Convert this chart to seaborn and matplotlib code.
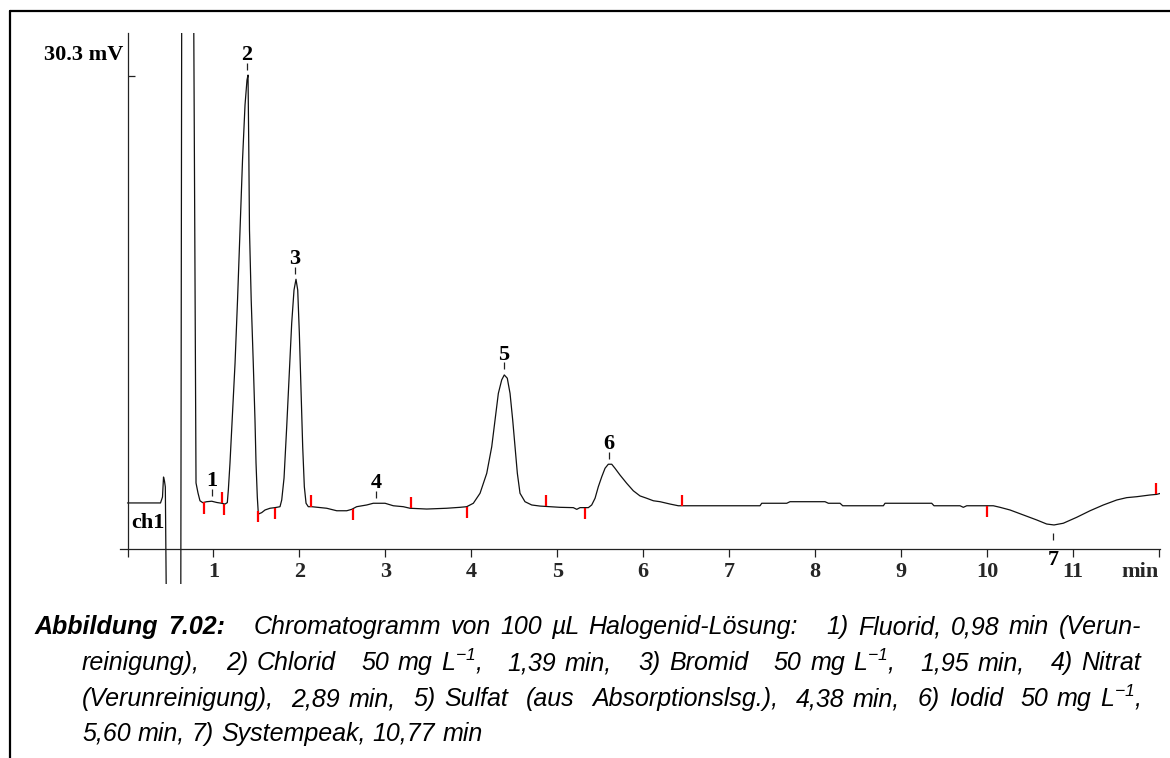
import re
import numpy as np
import pandas as pd
import matplotlib
matplotlib.use("Agg")
import matplotlib.pyplot as plt
import seaborn as sns
from matplotlib.lines import Line2D

# ---------------- data ----------------
time_min = [
    0.000, 0.384, 0.407, 0.419, 0.430, 0.440, 0.451, 0.620, 0.632, 0.765,
    0.797, 0.820, 0.843, 0.875, 0.921, 0.980, 1.038, 1.096, 1.134, 1.161,
    1.173, 1.192, 1.221, 1.251, 1.280, 1.309, 1.338, 1.367, 1.390, 1.402,
    1.411, 1.419, 1.439, 1.463, 1.483, 1.495, 1.510, 1.522, 1.561, 1.600,
    1.658, 1.716, 1.774, 1.794, 1.821, 1.852, 1.882, 1.910, 1.937, 1.960,
    1.980, 1.999, 2.018, 2.038, 2.057, 2.077, 2.103, 2.143, 2.317, 2.434,
    2.550, 2.608, 2.666, 2.783, 2.859, 2.996, 3.092, 3.208, 3.286, 3.481,
    3.713, 3.868, 3.946, 4.023, 4.101, 4.179, 4.237, 4.275, 4.314, 4.353,
    4.383, 4.418, 4.450, 4.481, 4.508, 4.535, 4.566, 4.624, 4.702, 4.799,
    4.915, 5.031, 5.186, 5.226, 5.264, 5.361, 5.400, 5.439, 5.477, 5.517,
    5.555, 5.593, 5.633, 5.671, 5.729, 5.807, 5.884, 5.962, 6.040, 6.117,
    6.195, 6.311, 6.408, 7.358, 7.378, 7.669, 7.707, 8.114, 8.153, 8.289,
    8.320, 8.793, 8.812, 9.355, 9.382, 9.685, 9.723, 9.763, 10.072, 10.150,
    10.266, 10.421, 10.577, 10.693, 10.778, 10.886, 11.042, 11.197, 11.352, 11.508,
    11.624, 11.740, 11.895, 11.973, 12.020,
]
signal_mv = [
    2.95, 2.95, 3.33, 4.61, 4.36, 3.97, -3.00, -3.00, 40.00, 40.00,
    4.23, 3.59, 3.09, 2.97, 3.03, 3.06, 2.98, 2.93, 2.88, 2.97,
    3.78, 5.49, 8.71, 11.90, 15.95, 20.43, 24.92, 28.44, 30.04, 30.36,
    25.56, 20.43, 15.95, 11.91, 8.26, 5.51, 3.33, 2.24, 2.33, 2.50,
    2.61, 2.65, 2.71, 3.14, 4.55, 7.83, 11.26, 14.46, 16.59, 17.28,
    16.59, 13.82, 10.19, 6.55, 3.99, 2.93, 2.71, 2.71, 2.61, 2.45,
    2.45, 2.54, 2.71, 2.82, 2.93, 2.93, 2.77, 2.71, 2.61, 2.56,
    2.61, 2.67, 2.71, 2.93, 3.57, 4.85, 6.55, 8.26, 9.97, 10.83,
    11.15, 10.94, 9.97, 8.26, 6.55, 4.85, 3.57, 3.03, 2.82, 2.75,
    2.71, 2.67, 2.65, 2.54, 2.65, 2.65, 2.82, 3.25, 3.99, 4.63,
    5.17, 5.43, 5.43, 5.17, 4.74, 4.21, 3.73, 3.40, 3.25, 3.09,
    3.03, 2.88, 2.77, 2.77, 2.93, 2.93, 3.03, 3.03, 2.93, 2.93,
    2.77, 2.77, 2.93, 2.93, 2.77, 2.77, 2.67, 2.77, 2.77, 2.67,
    2.50, 2.18, 1.86, 1.60, 1.54, 1.65, 2.03, 2.45, 2.82, 3.14,
    3.29, 3.35, 3.46, 3.50, 3.57,
]

peak_labels = ["1", "2", "3", "4", "5", "6", "7"]
peak_times = [0.98, 1.39, 1.95, 2.89, 4.38, 5.60, 10.77]
peak_negative = [False, False, False, False, False, False, True]

mark_times = [0.89, 1.10, 1.12, 1.52, 1.72, 2.14, 2.62, 3.30, 3.95,
              4.87, 5.32, 6.45, 10.00, 11.97]
mark_up = [False, True, False, False, False, True, False, True, False,
           True, False, True, False, True]

x_ticks = list(range(13))
x_ticklabels = ["", "1", "2", "3", "4", "5", "6", "7", "8", "9", "10", "11", "min"]
y_tick = 30.3
y_label = "30.3 mV"
channel_label = "ch1"

caption_title = "Abbildung 7.02:"
caption_lines = [
    "Chromatogramm von 100 µL Halogenid-Lösung:   1) Fluorid, 0,98 min (Verun-",
    "reinigung),   2) Chlorid   50 mg L$^{-1}$,   1,39 min,   3) Bromid   50 mg L$^{-1}$,   1,95 min,   4) Nitrat",
    "(Verunreinigung),  2,89 min,  5) Sulfat  (aus  Absorptionslsg.),  4,38 min,  6) Iodid  50 mg L$^{-1}$,",
    "5,60 min, 7) Systempeak, 10,77 min",
]

# ---------------- styling ----------------
sns.set_theme(style="white")
plt.rcParams["font.family"] = ["Liberation Sans", "DejaVu Sans"]
plt.rcParams["mathtext.fontset"] = "custom"
plt.rcParams["mathtext.rm"] = "Liberation Sans:italic"
plt.rcParams["mathtext.it"] = "Liberation Sans:italic"
plt.rcParams["mathtext.default"] = "it"

W, H = 1170, 758
fig = plt.figure(figsize=(W / 100, H / 100), dpi=100)
fig.patch.set_facecolor("white")


def fx(px):
    return px / W


def fy(py):
    return 1 - py / H


ax = fig.add_axes([fx(120), fy(584), fx(1160) - fx(120), fy(33) - fy(584)])
ax.set_facecolor("white")

df = pd.DataFrame({"t": time_min, "mv": signal_mv})
sns.lineplot(data=df, x="t", y="mv", ax=ax, color="#111111", linewidth=0.9,
             estimator=None, sort=False)

ax.set_xlim(-0.0873, 12.011)
ax.set_ylim(-2.242, 33.054)
ax.set_xlabel("")
ax.set_ylabel("")

for s in ["top", "right"]:
    ax.spines[s].set_visible(False)
ax.spines["left"].set_position(("data", 0))
ax.spines["left"].set_bounds(0, 33.054)
ax.spines["bottom"].set_position(("data", 0))
for s in ["left", "bottom"]:
    ax.spines[s].set_color("#222222")
    ax.spines[s].set_linewidth(0.9)

serif_bold = dict(fontfamily="Liberation Serif", fontweight="bold", fontsize=16)

ax.set_xticks(x_ticks)
ax.set_xticklabels(x_ticklabels, **serif_bold)
ax.get_xticklabels()[-1].set_horizontalalignment("right")
ax.tick_params(axis="x", direction="out", length=5.5, width=0.9, pad=3.5,
               color="#222222", bottom=True)
ax.set_yticks([y_tick])
ax.tick_params(axis="y", direction="in", length=5.3, width=0.9, labelleft=False,
               color="#222222", left=True)

ax.annotate(y_label, xy=(0, y_tick), xytext=(-3.2, 11.5), textcoords="offset points",
            ha="right", va="baseline", color="black", **serif_bold)
ax.text(0.24, 1.35, channel_label, ha="center", va="baseline", color="black", **serif_bold)

t_arr = np.array(time_min)
v_arr = np.array(signal_mv)

# integration markers
for t, up in zip(mark_times, mark_up):
    v = np.interp(t, t_arr, v_arr)
    if up:
        ax.vlines(t, v, v + 0.72, color="#ff0000", linewidth=1.6)
    else:
        ax.vlines(t, v - 0.72, v, color="#ff0000", linewidth=1.6)

# peak labels
for lab, t, neg in zip(peak_labels, peak_times, peak_negative):
    win = (t_arr >= t - 0.06) & (t_arr <= t + 0.06)
    if neg:
        v = v_arr[win].min()
        ax.vlines(t, v - 0.97, v - 0.52, color="#222222", linewidth=0.9)
        ax.text(t, v - 2.55, lab, ha="center", va="baseline", color="black", **serif_bold)
    else:
        v = v_arr[win].max()
        ax.vlines(t, v + 0.35, v + 0.80, color="#222222", linewidth=0.9)
        ax.text(t, v + 0.98, lab, ha="center", va="baseline", color="black", **serif_bold)

# frame lines of the figure box
fig.add_artist(Line2D([fx(10), 1.0], [fy(11), fy(11)], transform=fig.transFigure,
                      color="black", linewidth=1.6))
fig.add_artist(Line2D([fx(10), fx(10)], [fy(11), 0.0], transform=fig.transFigure,
                      color="black", linewidth=1.6))

# ---------------- caption (justified) ----------------
fig.canvas.draw()
renderer = fig.canvas.get_renderer()
cap_kw = dict(fontfamily="Liberation Sans", fontstyle="italic", fontsize=18, color="black")
cap_bold = dict(cap_kw, fontweight="bold")


def measure(s, kw):
    t = fig.text(0, 0, s, **kw)
    w = t.get_window_extent(renderer).width
    t.remove()
    return w


def tokenize(line, kw, lead=0):
    parts = re.split(r"( +)", line)
    toks = []
    gap = lead
    for p in parts:
        if p == "":
            continue
        if p.startswith(" "):
            gap += len(p)
        else:
            toks.append((gap, p, kw))
            gap = 0
    return toks


space_w = measure("a a", cap_kw) - measure("aa", cap_kw)


def place(tokens, x0, x1, base_y, justify):
    widths = [measure(s, kw) for _, s, kw in tokens]
    units = sum(g for g, _, _ in tokens)
    unit = (x1 - x0 - sum(widths)) / units if justify else space_w
    x = x0
    for (g, s, kw), w in zip(tokens, widths):
        x += g * unit
        fig.text(fx(x), fy(base_y), s, ha="left", va="baseline", **kw)
        x += w


line1 = tokenize(caption_title, cap_bold) + tokenize(caption_lines[0], cap_kw, lead=3)
place(line1, 35, 1141, 634, True)
place(tokenize(caption_lines[1], cap_kw), 82, 1141, 670, True)
place(tokenize(caption_lines[2], cap_kw), 82, 1141, 706, True)
place(tokenize(caption_lines[3], cap_kw), 82, 1141, 741, False)

fig.savefig("out.png", dpi=100, facecolor="white")
